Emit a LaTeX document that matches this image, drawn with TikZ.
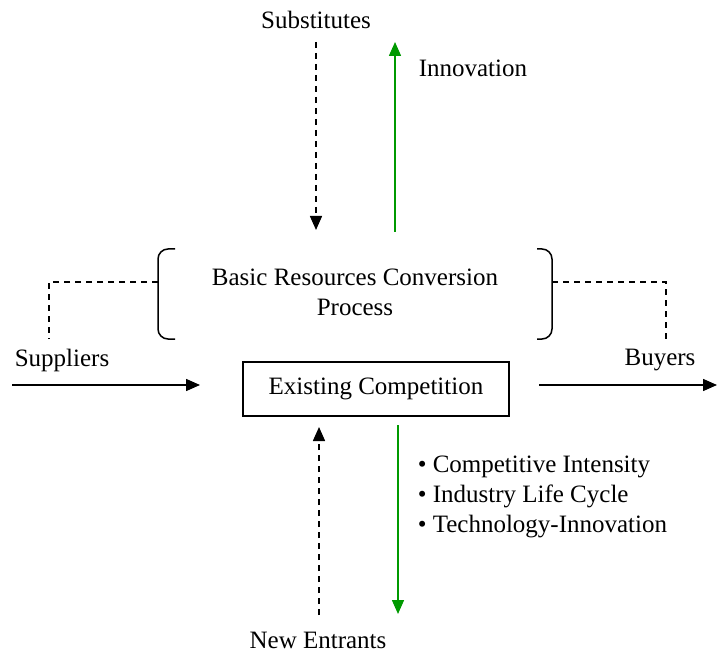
\documentclass[tikz,border=0pt]{standalone}
\usepackage{fontspec}
\setmainfont{Liberation Serif}
\usetikzlibrary{arrows.meta,positioning}
\definecolor{innovGreen}{RGB}{0,153,0}

\begin{document}
\begin{tikzpicture}[x=1pt,y=-1pt,
    txt/.style={font=\fontsize{25}{30}\selectfont, inner sep=0pt, align=center},
    dashline/.style={dash pattern=on 6pt off 5pt},
    greenline/.style={innovGreen},
    line width=1.5pt,
    >={Triangle[length=14pt,width=12pt]}
  ]
  \useasboundingbox (0,0) rectangle (717,652);

  \node[txt] (subs) at (316,20) {Substitutes};
  \node[txt, anchor=west] (innov) at (418,68) {Innovation};
  \node[txt] (basic) at (355,292) {Basic Resources Conversion\\Process};
  \node[txt] (supp) at (62,360) {Suppliers};
  \node[txt] (buy) at (660,360) {Buyers};
  \node[txt, draw, minimum width=266pt, minimum height=54pt] (comp) at (376,389) {Existing Competition};
  \node[txt, anchor=north west, align=left] (trends) at (417,455)
    {\textbullet\ Competitive Intensity\\\textbullet\ Industry Life Cycle\\\textbullet\ Technology-Innovation};
  \node[txt] (entr) at (318,640) {New Entrants};

  \coordinate (subsTop) at (316,42);
  \coordinate (subsEnd) at (316,230);
  \coordinate (innovFoot) at (395,232);
  \coordinate (innovTip) at (395,42);
  \coordinate (lb) at (158,282);
  \coordinate (rb) at (552,282);
  \coordinate (suppFoot) at (49,339);
  \coordinate (buyFoot) at (666,339);
  \coordinate (inStart) at (12,385);
  \coordinate (inEnd) at (200,385);
  \coordinate (outStart) at (539,385);
  \coordinate (outEnd) at (717,385);
  \coordinate (entrFoot) at (319,615);
  \coordinate (entrTip) at (319,427);
  \coordinate (trendTop) at (398,425);
  \coordinate (trendTip) at (398,614);

  % brackets round the conversion process
  \draw[rounded corners=10pt] (175,249) -- (158,249) -- (158,339) -- (175,339);
  \draw[rounded corners=10pt] (537,249) -- (552,249) -- (552,339) -- (537,339);

  \draw[dashline] (lb) -| (suppFoot);
  \draw[dashline] (rb) -| (buyFoot);
  \draw[dashline,->] (subsTop) -- (subsEnd);
  \draw[dashline,->] (entrFoot) -- (entrTip);
  \draw[greenline,->] (innovFoot) -- (innovTip);
  \draw[greenline,->] (trendTop) -- (trendTip);
  \draw[->] (inStart) -- (inEnd);
  \draw[->] (outStart) -- (outEnd);
\end{tikzpicture}
\end{document}
